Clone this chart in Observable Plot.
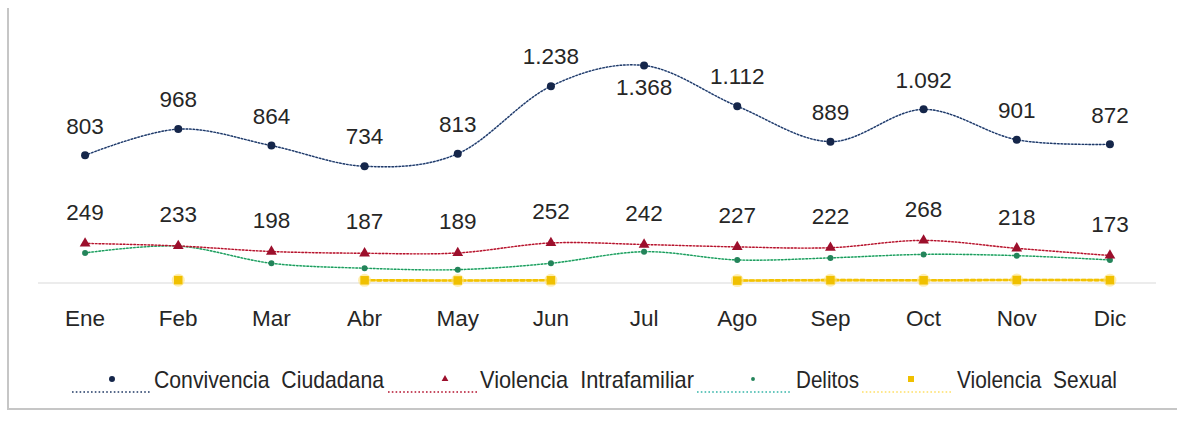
<!DOCTYPE html>
<html>
<head>
<meta charset="utf-8">
<script src="https://cdn.jsdelivr.net/npm/d3@7"></script>
<script src="https://cdn.jsdelivr.net/npm/@observablehq/plot@0.6"></script>
<style>
  html, body { margin: 0; padding: 0; background: #fff; }
  body { width: 1177px; height: 421px; position: relative; overflow: hidden;
         font-family: "Liberation Sans", Arial, sans-serif; color: #262626; }
  #frame { position: absolute; left: 7px; top: 8px; width: 1200px; height: 400px;
           border-left: 2px solid #c6c6c6; border-bottom: 2px solid #c6c6c6; }
  #chart { position: absolute; left: 0; top: 0; }
  #legend { position: absolute; left: 0; top: 345px; }
</style>
</head>
<body>
<div id="frame"></div>
<div id="chart"></div>
<div id="legend"></div>
<script>
const months = ["Ene","Feb","Mar","Abr","May","Jun","Jul","Ago","Sep","Oct","Nov","Dic"];
const convivencia   = [803, 968, 864, 734, 813, 1238, 1368, 1112, 889, 1092, 901, 872];
const intrafamiliar = [249, 233, 198, 187, 189, 252, 242, 227, 222, 268, 218, 173];
const delitos       = [189, 232, 124, 93, 84, 124, 197, 145, 158, 180, 172, 145];
const sexual        = [null, 18, null, 17, 16, 17, null, 15, 18, 17, 19, 18];
const seriesNames = ["Convivencia  Ciudadana", "Violencia  Intrafamiliar", "Delitos", "Violencia  Sexual"];

const rows = arr => months.map((m, i) => ({i, m, v: arr[i]}));
const conv = rows(convivencia), intra = rows(intrafamiliar), del = rows(delitos), sex = rows(sexual);
const fmt = d3.formatLocale({decimal: ",", thousands: ".", grouping: [3], currency: ["$", ""]}).format(",d");
const maxConv = d3.max(convivencia);

const C = {
  conv: "#1f3864", convLight: "#7f9fd8", convDot: "#15264a",
  intra: "#b4122e", intraLight: "#f08a8a", intraDot: "#9c0f2c",
  del: "#1e9a5e", delLight: "#5fe0a0", delDot: "#23845a",
  sex: "#f2c200", sexLight: "#f5b800", sexDot: "#f0c000"
};

const lineSet = (data, light, dark, w, dash) => [
  Plot.line(data, {x: "i", y: "v", curve: "cardinal", stroke: light, strokeWidth: w, strokeOpacity: 0.45}),
  Plot.line(data, {x: "i", y: "v", curve: "cardinal", stroke: dark, strokeWidth: w, strokeDasharray: dash})
];

const FONT = "Liberation Sans, Arial, sans-serif";
const textStyle = {fill: "#262626", fontSize: 22.5, fontFamily: FONT};

const plot = Plot.plot({
  width: 1177, height: 345,
  marginLeft: 38, marginRight: 21, marginTop: 44, marginBottom: 62.5,
  x: {type: "linear", domain: [-0.5, 11.5]},
  y: {domain: [0, 1500], axis: null},
  style: {background: "transparent", fontFamily: FONT},
  marks: [
    Plot.ruleY([0], {stroke: "#d9d9d9", strokeWidth: 1.2}),
    Plot.axisX(d3.range(months.length), {tickFormat: i => months[i], tickSize: 0, tickPadding: 27, label: null, ...textStyle}),
    ...lineSet(sex, C.sexLight, C.sex, 2.6, "3.5,3"),
    ...lineSet(del, C.delLight, C.del, 1.4, "1.5,2"),
    ...lineSet(intra, C.intraLight, C.intra, 1.4, "1.5,2"),
    ...lineSet(conv, C.convLight, C.conv, 1.4, "1.5,2"),
    Plot.dot(sex.filter(d => d.v != null), {x: "i", y: "v", symbol: "circle", r: 6.5, fill: "#ffe27a", fillOpacity: 0.6}),
    Plot.dot(sex.filter(d => d.v != null), {x: "i", y: "v", symbol: "square", r: 4.8, fill: C.sexDot}),
    Plot.dot(del, {x: "i", y: "v", symbol: "circle", r: 3, fill: C.delDot}),
    Plot.dot(intra, {x: "i", y: "v", symbol: "triangle", r: 4, fill: C.intraDot}),
    Plot.dot(conv, {x: "i", y: "v", symbol: "circle", r: 4, fill: C.convDot}),
    Plot.text(conv.filter(d => d.v !== maxConv), {x: "i", y: "v", text: d => fmt(d.v), dy: -29, ...textStyle}),
    Plot.text(conv.filter(d => d.v === maxConv), {x: "i", y: "v", text: d => fmt(d.v), dy: 22, ...textStyle}),
    Plot.text(intra, {x: "i", y: "v", text: d => fmt(d.v), dy: -31, ...textStyle})
  ]
});
document.getElementById("chart").appendChild(plot);

// Legend (below the plot SVG)
const legendItems = [
  {name: seriesNames[0], x0: 72,  x1: 150, mx: 112, tx: 154, tw: 230, symbol: d3.symbolCircle,   size: 28, fill: C.convDot,  line: C.conv},
  {name: seriesNames[1], x0: 388, x1: 477, mx: 445, tx: 480, tw: 214, symbol: d3.symbolTriangle, size: 20, fill: C.intraDot, line: C.intra},
  {name: seriesNames[2], x0: 697, x1: 792, mx: 753, tx: 796, tw: 63,  symbol: d3.symbolCircle,   size: 12, fill: C.delDot,   line: "#35b5a8"},
  {name: seriesNames[3], x0: 862, x1: 952, mx: 911, tx: 957, tw: 160, symbol: d3.symbolSquare,   size: 36, fill: C.sexDot,   line: "#ffe066"}
];
const lsvg = d3.create("svg").attr("width", 1177).attr("height", 60)
  .style("font-family", FONT).style("font-size", "24px");
for (const it of legendItems) {
  const g = lsvg.append("g");
  g.append("line").attr("x1", it.x0).attr("x2", it.x1).attr("y1", 47).attr("y2", 47)
    .attr("stroke", it.line).attr("stroke-width", 1.6).attr("stroke-dasharray", "1.6,2.2");
  g.append("path").attr("d", d3.symbol(it.symbol, it.size)())
    .attr("transform", `translate(${it.mx},34)`).attr("fill", it.fill);
  g.append("text").attr("x", it.tx).attr("y", 43).attr("fill", "#262626")
    .attr("textLength", it.tw).attr("lengthAdjust", "spacingAndGlyphs")
    .style("white-space", "pre").text(it.name);
}
document.getElementById("legend").appendChild(lsvg.node());
</script>
</body>
</html>
